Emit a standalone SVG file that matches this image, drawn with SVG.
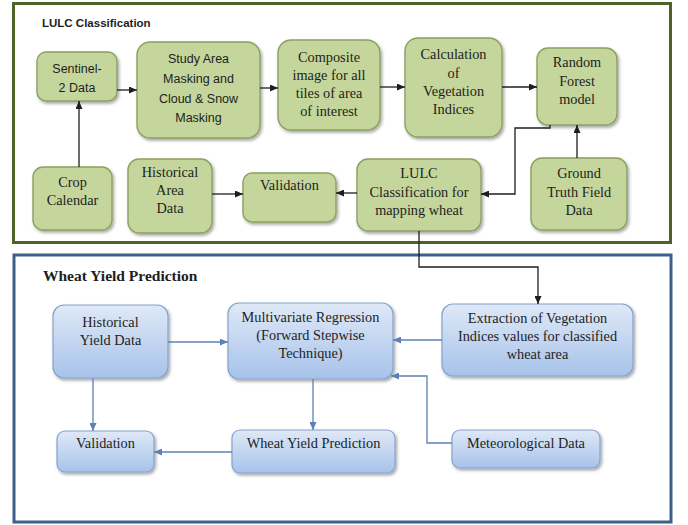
<svg xmlns="http://www.w3.org/2000/svg" width="688" height="525" viewBox="0 0 688 525">
<defs>
<style>
.g{fill:#c4d69c;stroke:#8ca060;stroke-width:1.4;filter:url(#sh)}
.b{fill:url(#bg);stroke:#85a3cc;stroke-width:1.2;filter:url(#sh)}
.s{font-family:Liberation Sans,Arial,sans-serif;font-size:12.5px;fill:#1e1e1e;text-anchor:middle}
.t{font-family:Liberation Serif,Times New Roman,serif;font-size:14.3px;fill:#1e1e1e;text-anchor:middle}
.k{fill:none;stroke:#1e1e1e;stroke-width:1.3;marker-end:url(#ak)}
.u{fill:none;stroke:#5b82b6;stroke-width:1.3;marker-end:url(#au)}
</style>
<linearGradient id="bg" x1="0" y1="0" x2="0" y2="1">
<stop offset="0" stop-color="#dfe9f7"/>
<stop offset="1" stop-color="#a7c2ea"/>
</linearGradient>
<filter id="sh" x="-10%" y="-10%" width="130%" height="140%">
<feDropShadow dx="1.5" dy="2" stdDeviation="1.5" flood-color="#000" flood-opacity="0.35"/>
</filter>
<marker id="ak" markerUnits="userSpaceOnUse" markerWidth="8" markerHeight="7" refX="8" refY="3.5" orient="auto">
<path d="M0,0 L8,3.5 L0,7 z" fill="#1e1e1e"/>
</marker>
<marker id="au" markerUnits="userSpaceOnUse" markerWidth="8" markerHeight="7" refX="8" refY="3.5" orient="auto">
<path d="M0,0 L8,3.5 L0,7 z" fill="#5b82b6"/>
</marker>
</defs>
<rect width="688" height="525" fill="#fff"/>

<g id="frame-lulc">
<rect x="13.5" y="3.5" width="657" height="239" fill="none" stroke="#4f6228" stroke-width="3"/>
<text x="42" y="27" font-family="Liberation Sans, Arial, sans-serif" font-size="11.5" font-weight="bold" fill="#1e1e1e">LULC Classification</text>
</g>
<g id="frame-yield">
<rect x="14" y="255" width="657" height="267" fill="none" stroke="#3e5f8a" stroke-width="3"/>
<text x="43" y="281" font-family="Liberation Serif, Times New Roman, serif" font-size="15.5" font-weight="bold" fill="#1e1e1e">Wheat Yield Prediction</text>
</g>

<g id="sentinel"><rect class="g" x="37" y="52" width="80" height="49" rx="9"/>
<g class="s"><text x="77" y="73">Sentinel-</text><text x="77" y="92">2 Data</text></g></g>
<g id="study-area"><rect class="g" x="137" y="42" width="123" height="96" rx="13"/>
<g class="s"><text x="198.5" y="63">Study Area</text><text x="198.5" y="83">Masking and</text><text x="198.5" y="103">Cloud &amp; Snow</text><text x="198.5" y="122">Masking</text></g></g>
<g id="composite"><rect class="g" x="278" y="40" width="102" height="90" rx="13"/>
<g class="t"><text x="329" y="62">Composite</text><text x="329" y="80">image for all</text><text x="329" y="98">tiles of area</text><text x="329" y="116">of interest</text></g></g>
<g id="calculation"><rect class="g" x="405" y="38" width="97" height="99" rx="13"/>
<g class="t"><text x="453.5" y="59">Calculation</text><text x="453.5" y="77.5">of</text><text x="453.5" y="96">Vegetation</text><text x="453.5" y="114">Indices</text></g></g>
<g id="random-forest"><rect class="g" x="537" y="48" width="80" height="77" rx="11"/>
<g class="t"><text x="577" y="67">Random</text><text x="577" y="85.5">Forest</text><text x="577" y="104">model</text></g></g>
<g id="ground-truth"><rect class="g" x="531" y="158" width="96" height="72" rx="11"/>
<g class="t"><text x="579" y="178">Ground</text><text x="579" y="197">Truth Field</text><text x="579" y="215">Data</text></g></g>
<g id="crop-calendar"><rect class="g" x="33" y="167" width="79" height="63" rx="10"/>
<g class="t"><text x="72.5" y="187">Crop</text><text x="72.5" y="205">Calendar</text></g></g>
<g id="historical-area"><rect class="g" x="128" y="159" width="84" height="74" rx="11"/>
<g class="t"><text x="170" y="177">Historical</text><text x="170" y="195">Area</text><text x="170" y="213">Data</text></g></g>
<g id="validation-top"><rect class="g" x="243" y="173" width="93" height="49" rx="9"/>
<g class="t"><text x="289.5" y="190">Validation</text></g></g>
<g id="lulc-classification"><rect class="g" x="357" y="159" width="124" height="72" rx="11"/>
<g class="t"><text x="419" y="178">LULC</text><text x="419" y="197">Classification for</text><text x="419" y="215">mapping wheat</text></g></g>

<g id="historical-yield"><rect class="b" x="53" y="305" width="115" height="73" rx="11"/>
<g class="t"><text x="110.5" y="327">Historical</text><text x="110.5" y="345">Yield Data</text></g></g>
<g id="multivariate"><rect class="b" x="228" y="303" width="165" height="76" rx="11"/>
<g class="t"><text x="310.5" y="322">Multivariate Regression</text><text x="310.5" y="340">(Forward Stepwise</text><text x="310.5" y="358">Technique)</text></g></g>
<g id="extraction"><rect class="b" x="442" y="304" width="191" height="72" rx="11"/>
<g class="t"><text x="537.5" y="323">Extraction of Vegetation</text><text x="537.5" y="341">Indices values for classified</text><text x="537.5" y="359">wheat area</text></g></g>
<g id="wheat-yield-prediction"><rect class="b" x="232" y="430" width="163" height="43" rx="8"/>
<g class="t"><text x="313.5" y="448">Wheat Yield Prediction</text></g></g>
<g id="validation-bottom"><rect class="b" x="57" y="431" width="97" height="41" rx="8"/>
<g class="t"><text x="105.5" y="448">Validation</text></g></g>
<g id="meteorological"><rect class="b" x="452" y="430" width="148" height="38" rx="8"/>
<g class="t"><text x="526" y="448">Meteorological Data</text></g></g>

<g id="connectors">
<path class="k" d="M79,167 V101"/>
<path class="k" d="M117,90 H137"/>
<path class="k" d="M260,88 H278"/>
<path class="k" d="M380,87 H405"/>
<path class="k" d="M502,87 H537"/>
<path class="k" d="M577,158 V125"/>
<path class="k" d="M550,125 V128 H515 V194 H481"/>
<path class="k" d="M357,193 H336"/>
<path class="k" d="M212,194 H243"/>
<path class="k" d="M419,231 V267 H538 V304" stroke="#333"/>
<path class="u" d="M168,342 H228"/>
<path class="u" d="M442,340 H393"/>
<path class="u" d="M313,379 V430"/>
<path class="u" d="M93,378 V431"/>
<path class="u" d="M232,452 H154"/>
<path class="u" d="M452,443 H427 V376 H391"/>
</g>
</svg>
